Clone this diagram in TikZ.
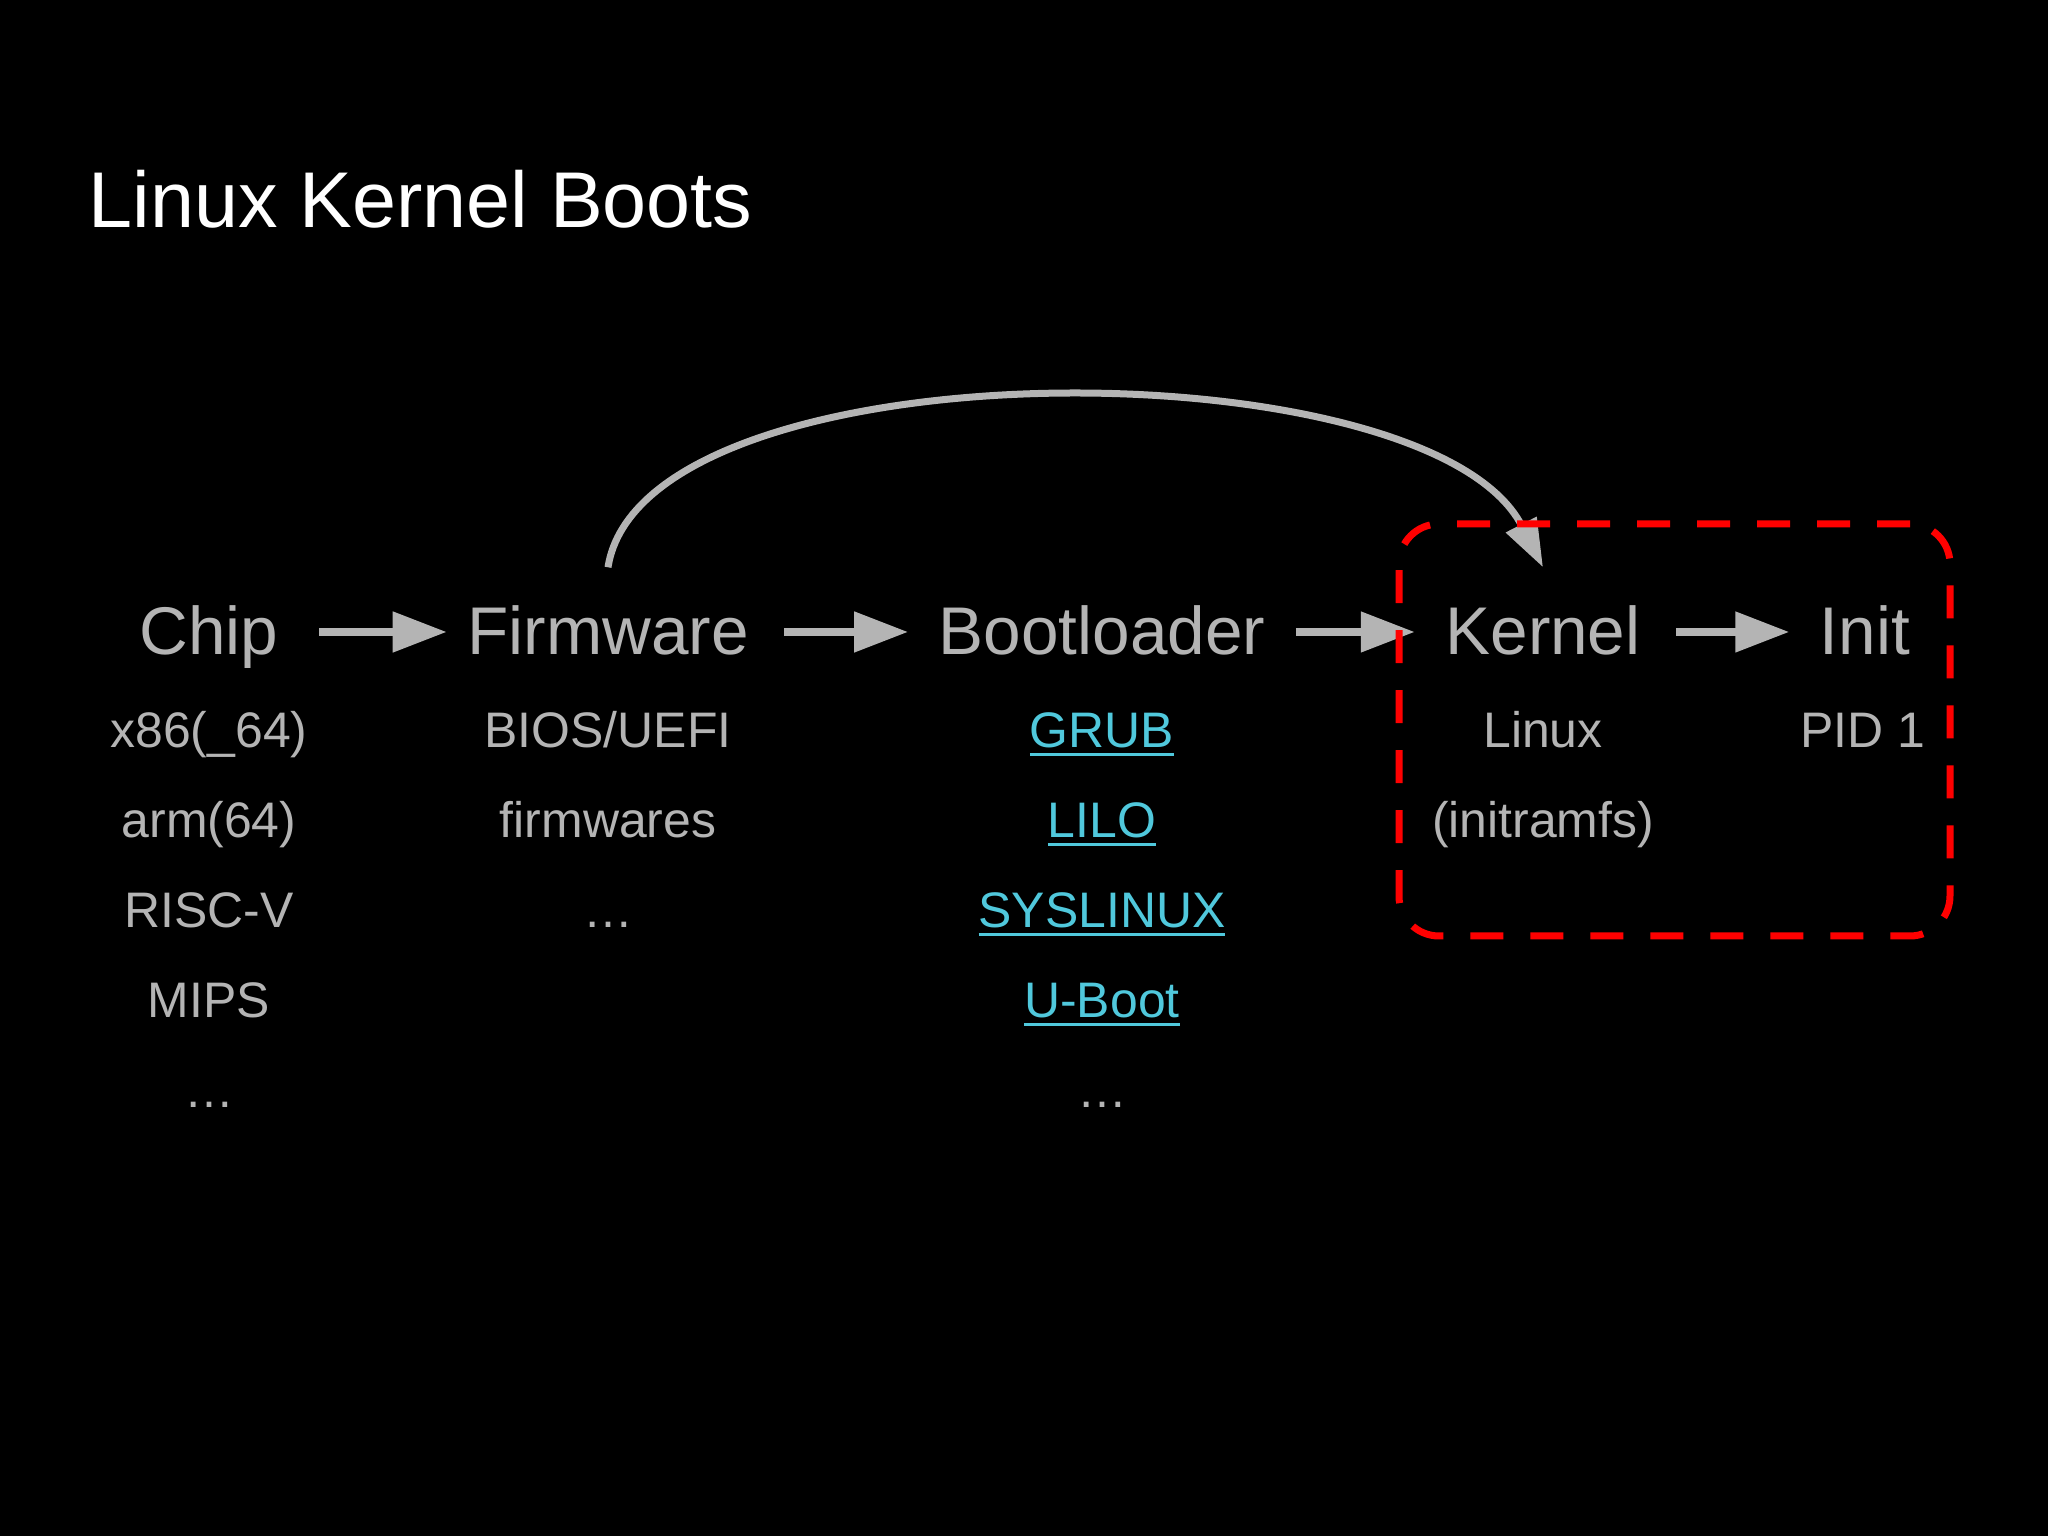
\documentclass[tikz,border=0pt]{standalone}
\usepackage{fontspec}
\setmainfont{Liberation Sans}
\usepackage{tikz}
\usetikzlibrary{arrows.meta}
\definecolor{slidegray}{RGB}{180,180,180}
\definecolor{linkcyan}{RGB}{80,200,220}
\definecolor{markred}{RGB}{255,0,0}
\newcommand{\linkul}[1]{\sbox0{#1}\rlap{\rule[-2.4pt]{\wd0}{0.9pt}}\usebox0}

\begin{document}
\begin{tikzpicture}[
  titletxt/.style={anchor=base west, inner sep=0pt, text=white,
                   font=\fontsize{22.5}{27}\selectfont},
  headtxt/.style={anchor=base, text=slidegray, inner xsep=3mm, inner ysep=0pt,
                  text height=5mm, text depth=0.4mm,
                  font=\fontsize{19.2}{23}\selectfont},
  subtxt/.style={anchor=base, inner sep=0pt, text=slidegray,
                 font=\fontsize{14.2}{17}\selectfont},
  linktxt/.style={subtxt, text=linkcyan},
  steparrow/.style={-{Triangle[length=5.4mm, width=3.9mm]}, line width=0.8mm, color=slidegray},
  skiparrow/.style={-{Triangle[length=4.8mm, width=3.3mm]}, line width=0.7mm, color=slidegray},
  focusbox/.style={draw=markred, line width=0.7mm, dash pattern=on 3.3mm off 2.7mm,
                   rounded corners=4mm, minimum width=5.51cm, minimum height=4.12cm}
]
\fill[black] (0,0) rectangle (20.48,15.36);
\node[titletxt] (title) at (0.88,13.08) {Linux Kernel Boots};

% boot stages
\node[headtxt] (chip) at (2.09,8.81)  {Chip};
\node[headtxt] (fw)   at (6.08,8.81)  {Firmware};
\node[headtxt] (boot) at (11.02,8.81) {Bootloader};
\node[headtxt] (kern) at (15.43,8.81) {Kernel};
\node[headtxt] (init) at (18.65,8.81) {Init};

\draw[steparrow] ([xshift=1mm]chip.east) -- ([xshift=1mm]fw.west);
\draw[steparrow] ([xshift=0.5mm]fw.east) -- (boot);
\draw[steparrow] (boot) -- (kern);
\draw[steparrow] ([xshift=0.5mm]kern.east) -- (init);

% firmware can skip the bootloader
\coordinate (arcA) at ([yshift=3.7mm]fw.north);
\coordinate (arcB) at ([yshift=3.7mm]kern.north);
\draw[skiparrow] (arcA) .. controls +(0.35,2.25) and +(-1.15,2.25) .. (arcB);

% examples under each stage
\node[subtxt] (c1) at (2.09,7.88) {x86(\_64)};
\node[subtxt] (c2) at (2.09,6.98) {arm(64)};
\node[subtxt] (c3) at (2.09,6.08) {RISC-V};
\node[subtxt] (c4) at (2.09,5.18) {MIPS};
\node[subtxt] (c5) at (2.09,4.28) {…};

\node[subtxt] (f1) at (6.08,7.88) {BIOS/UEFI};
\node[subtxt] (f2) at (6.08,6.98) {firmwares};
\node[subtxt] (f3) at (6.08,6.08) {…};

\node[linktxt] (b1) at (11.02,7.88) {\linkul{GRUB}};
\node[linktxt] (b2) at (11.02,6.98) {\linkul{LILO}};
\node[linktxt] (b3) at (11.02,6.08) {\linkul{SYSLINUX}};
\node[linktxt] (b4) at (11.02,5.18) {\linkul{U-Boot}};
\node[subtxt]  (b5) at (11.02,4.28) {…};

\node[subtxt] (k1) at (15.43,7.88) {Linux};
\node[subtxt] (k2) at (15.43,6.98) {(initramfs)};

\node[subtxt] (i1) at (18.63,7.88) {PID 1};

\node[focusbox] (focus) at (16.745,8.06) {};
\end{tikzpicture}
\end{document}
